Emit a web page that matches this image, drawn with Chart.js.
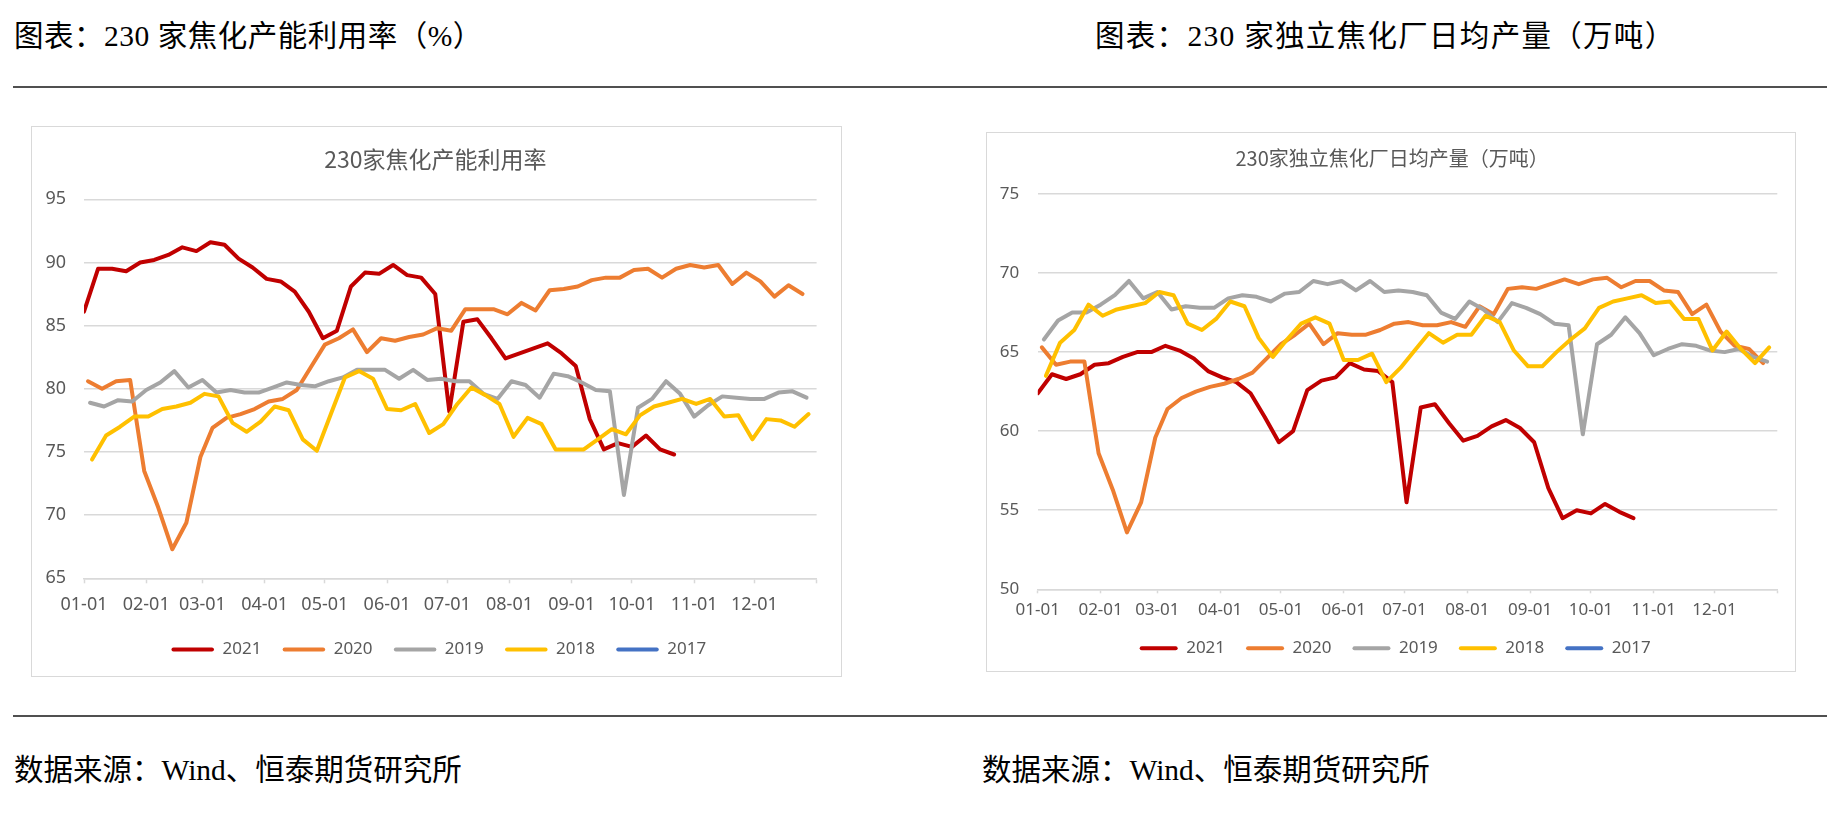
<!DOCTYPE html>
<html>
<head>
<meta charset="utf-8">
<script src="https://cdn.jsdelivr.net/npm/chart.js@4.4.1/dist/chart.umd.min.js"></script>
<style>
  html, body { margin: 0; padding: 0; background: #fff; }
  body { width: 1827px; height: 817px; position: relative; overflow: hidden; }
  .txt { position: absolute; font-family: "Liberation Serif", "Noto Sans CJK SC", serif; font-size: 29.5px; line-height: 40px; color: #000; white-space: nowrap; }
  .rule { position: absolute; left: 13px; right: 0; height: 2px; background: #505050; }
  .frame { position: absolute; border: 1px solid #d9d9d9; box-sizing: border-box; }
  .frame > div { position: absolute; left: 0; top: 0; right: 0; bottom: 0; }
</style>
</head>
<body>
  <div class="txt" style="left:14px; top:16px; letter-spacing:0.5px;">图表：230 家焦化产能利用率（%）</div>
  <div class="txt" style="left:1095px; top:16px; letter-spacing:1.3px;">图表：230 家独立焦化厂日均产量（万吨）</div>
  <div class="rule" style="top:86px;"></div>

  <div class="frame" style="left:31px; top:126px; width:811px; height:551px;">
    <div><canvas id="utilChart"></canvas></div>
  </div>
  <div class="frame" style="left:986px; top:132px; width:810px; height:540px;">
    <div><canvas id="outputChart"></canvas></div>
  </div>

  <div class="rule" style="top:715px;"></div>
  <div class="txt" style="left:14px; top:750px;">数据来源：Wind、恒泰期货研究所</div>
  <div class="txt" style="left:982px; top:750px;">数据来源：Wind、恒泰期货研究所</div>

<script>
(function() {
  "use strict";

  // ── Data ──

  const years = ['2021', '2020', '2019', '2018', '2017'];
  const yearColors = ['#C00000', '#ED7D31', '#A5A5A5', '#FFC000', '#4472C4'];
  const monthLabels = ['01-01', '02-01', '03-01', '04-01', '05-01', '06-01',
                       '07-01', '08-01', '09-01', '10-01', '11-01', '12-01', ''];

  // weekly release dates (Fridays) for each year
  const dates2021 = ['01-01','01-08','01-15','01-22','01-29','02-05','02-12','02-19','02-26','03-05',
    '03-12','03-19','03-26','04-02','04-09','04-16','04-23','04-30','05-07','05-14','05-21','05-28',
    '06-04','06-11','06-18','06-25','07-02','07-09','07-16','07-23','07-30','08-06','08-13','08-20',
    '08-27','09-03','09-10','09-17','09-24','10-01','10-08','10-15','10-22'];
  const dates2020 = ['01-03','01-10','01-17','01-24','01-31','02-07','02-14','02-21','02-28','03-06',
    '03-13','03-20','03-27','04-03','04-10','04-17','04-24','05-01','05-08','05-15','05-22','05-29',
    '06-05','06-12','06-19','06-26','07-03','07-10','07-17','07-24','07-31','08-07','08-14','08-21',
    '08-28','09-04','09-11','09-18','09-25','10-02','10-09','10-16','10-23','10-30','11-06','11-13',
    '11-20','11-27','12-04','12-11','12-18','12-25'];
  const dates2019 = ['01-04','01-11','01-18','01-25','02-01','02-08','02-15','02-22','03-01','03-08',
    '03-15','03-22','03-29','04-05','04-12','04-19','04-26','05-03','05-10','05-17','05-24','05-31',
    '06-07','06-14','06-21','06-28','07-05','07-12','07-19','07-26','08-02','08-09','08-16','08-23',
    '08-30','09-06','09-13','09-20','09-27','10-04','10-11','10-18','10-25','11-01','11-08','11-15',
    '11-22','11-29','12-06','12-13','12-20','12-27'];
  const dates2018 = ['01-05','01-12','01-19','01-26','02-02','02-09','02-16','02-23','03-02','03-09',
    '03-16','03-23','03-30','04-06','04-13','04-20','04-27','05-04','05-11','05-18','05-25','06-01',
    '06-08','06-15','06-22','06-29','07-06','07-13','07-20','07-27','08-03','08-10','08-17','08-24',
    '08-31','09-07','09-14','09-21','09-28','10-05','10-12','10-19','10-26','11-02','11-09','11-16',
    '11-23','11-30','12-07','12-14','12-21','12-28'];

  // 230家焦化产能利用率 (%)
  const util2021 = [86.1, 89.5, 89.5, 89.3, 90.0, 90.2, 90.6, 91.2, 90.9, 91.6, 91.4, 90.3, 89.6, 88.7,
    88.5, 87.7, 86.1, 84.0, 84.6, 88.1, 89.2, 89.1, 89.8, 89.0, 88.8, 87.5, 78.2, 85.3, 85.5, 84.0,
    82.4, 82.8, 83.2, 83.6, 82.8, 81.8, 77.6, 75.2, 75.7, 75.4, 76.3, 75.2, 74.8];
  const util2020 = [80.6, 80.0, 80.6, 80.7, 73.5, 70.6, 67.3, 69.4, 74.6, 76.9, 77.7, 78.0, 78.4, 79.0,
    79.2, 79.9, 81.7, 83.5, 84.0, 84.7, 82.9, 84.0, 83.8, 84.1, 84.3, 84.8, 84.6, 86.3, 86.3, 86.3,
    85.9, 86.8, 86.2, 87.8, 87.9, 88.1, 88.6, 88.8, 88.8, 89.4, 89.5, 88.8, 89.5, 89.8, 89.6, 89.8,
    88.3, 89.2, 88.5, 87.3, 88.2, 87.5];
  const util2019 = [78.9, 78.6, 79.1, 79.0, 79.9, 80.5, 81.4, 80.1, 80.7, 79.7, 79.9, 79.7, 79.7, 80.1,
    80.5, 80.3, 80.2, 80.6, 80.9, 81.5, 81.5, 81.5, 80.8, 81.5, 80.7, 80.8, 80.6, 80.6, 79.6, 79.2,
    80.6, 80.3, 79.3, 81.2, 81.0, 80.5, 79.9, 79.8, 71.6, 78.5, 79.2, 80.6, 79.6, 77.8, 78.7, 79.4,
    79.3, 79.2, 79.2, 79.7, 79.8, 79.3];
  const util2018 = [74.4, 76.3, 77.0, 77.8, 77.8, 78.4, 78.6, 78.9, 79.6, 79.4, 77.3, 76.6, 77.4, 78.6,
    78.3, 76.0, 75.1, 78.0, 80.9, 81.4, 80.8, 78.4, 78.3, 78.8, 76.5, 77.2, 78.8, 80.1, 79.5, 78.8,
    76.2, 77.7, 77.2, 75.2, 75.2, 75.2, 76.0, 76.8, 76.4, 77.9, 78.6, 78.9, 79.2, 78.8, 79.2, 77.8,
    77.9, 76.0, 77.6, 77.5, 77.0, 78.0];

  // 230家独立焦化厂日均产量 (万吨)
  const output2021 = [62.4, 63.6, 63.3, 63.6, 64.2, 64.3, 64.7, 65.0, 65.0, 65.4, 65.1, 64.6, 63.8, 63.4,
    63.1, 62.4, 60.9, 59.3, 60.0, 62.6, 63.2, 63.4, 64.3, 63.9, 63.8, 63.1, 55.5, 61.5, 61.7, 60.5,
    59.4, 59.7, 60.3, 60.7, 60.2, 59.3, 56.4, 54.5, 55.0, 54.8, 55.4, 54.9, 54.5];
  const output2020 = [65.3, 64.2, 64.4, 64.4, 58.6, 56.3, 53.6, 55.5, 59.6, 61.4, 62.1, 62.5, 62.8, 63.0,
    63.3, 63.7, 64.6, 65.5, 66.1, 66.8, 65.5, 66.2, 66.1, 66.1, 66.4, 66.8, 66.9, 66.7, 66.7, 66.9,
    66.6, 67.9, 67.4, 69.0, 69.1, 69.0, 69.3, 69.6, 69.3, 69.6, 69.7, 69.1, 69.5, 69.5, 68.9, 68.8,
    67.4, 68.0, 66.3, 65.4, 65.2, 64.3];
  const output2019 = [65.8, 67.0, 67.5, 67.5, 68.0, 68.6, 69.5, 68.4, 68.8, 67.7, 67.9, 67.8, 67.8, 68.4,
    68.6, 68.5, 68.2, 68.7, 68.8, 69.5, 69.3, 69.5, 68.9, 69.5, 68.8, 68.9, 68.8, 68.6, 67.5, 67.1,
    68.2, 67.7, 66.9, 68.1, 67.8, 67.4, 66.8, 66.7, 59.8, 65.5, 66.1, 67.2, 66.2, 64.8, 65.2, 65.5,
    65.4, 65.1, 65.0, 65.2, 64.7, 64.4];
  const output2018 = [63.5, 65.6, 66.4, 68.0, 67.3, 67.7, 67.9, 68.1, 68.8, 68.6, 66.8, 66.4, 67.1, 68.2,
    67.9, 65.9, 64.7, 65.8, 66.8, 67.2, 66.8, 64.5, 64.5, 64.9, 63.1, 64.0, 65.1, 66.2, 65.6, 66.1,
    66.1, 67.3, 66.9, 65.1, 64.1, 64.1, 65.0, 65.8, 66.5, 67.8, 68.2, 68.4, 68.6, 68.1, 68.2, 67.1,
    67.1, 65.1, 66.3, 65.2, 64.3, 65.3];

  // ── Helpers ──

  const MONTH_START = [0, 31, 59, 90, 120, 151, 181, 212, 243, 273, 304, 334, 365];
  const FONT = '"Noto Sans", "Noto Sans CJK SC", sans-serif';
  const TEXT = '#595959';
  const GRID = '#d9d9d9';

  function toDay(s) {
    const [m, d] = s.split('-').map(Number);
    return MONTH_START[m - 1] + d - 1;
  }

  function points(dates, vals) {
    return vals.map((v, i) => ({ x: toDay(dates[i]), y: v }));
  }

  function buildDatasets(seriesList) {
    return years.map((y, i) => ({
      label: y,
      data: seriesList[i] || [],
      borderColor: yearColors[i],
      backgroundColor: yearColors[i],
      borderWidth: 4,
      pointRadius: 0,
      tension: 0,
      borderJoinStyle: 'round',
      borderCapStyle: 'round',
      order: years.length - i,   // later years drawn on top, like Excel
    }));
  }

  // Excel centres title and legend on the whole frame, Chart.js on the padded box;
  // slide them sideways after layout
  const nudgePlugin = {
    id: 'nudge',
    afterLayout(chart, args, opts) {
      if (chart.titleBlock) { chart.titleBlock.left += opts.title; chart.titleBlock.right += opts.title; }
      if (chart.legend) { chart.legend.left += opts.legend; chart.legend.right += opts.legend; }
    },
  };

  function makeChart(id, o) {
    return new Chart(document.getElementById(id), {
      type: 'line',
      data: { datasets: buildDatasets(o.series) },
      plugins: [nudgePlugin],
      options: {
        responsive: true,
        maintainAspectRatio: false,
        animation: false,
        layout: { padding: { left: 0, top: 0, right: o.padRight, bottom: o.padBottom } },
        plugins: {
          tooltip: { enabled: false },
          nudge: { title: o.titleShift, legend: o.legendShift },
          title: {
            display: true, text: o.title, color: TEXT,
            font: { family: '"Noto Sans CJK SC", sans-serif', size: o.titleSize, weight: 'normal' },
            padding: { top: o.titleTop, bottom: o.titleBottom },
          },
          legend: {
            position: 'bottom',
            labels: {
              color: TEXT,
              font: { family: FONT, size: 17 },
              boxWidth: o.legendBox, boxHeight: 4,
              padding: o.legendPad,
              useBorderRadius: true,
              generateLabels: chart => chart.data.datasets.map((ds, i) => ({
                text: ds.label, fillStyle: ds.borderColor, strokeStyle: ds.borderColor,
                lineWidth: 0, hidden: false, datasetIndex: i, borderRadius: 2, fontColor: TEXT,
              })),
            },
          },
        },
        scales: {
          x: {
            type: 'linear', min: 0, max: 365,
            afterBuildTicks: s => { s.ticks = MONTH_START.map(v => ({ value: v })); },
            afterFit: s => { s.height = o.xHeight; },
            ticks: {
              color: TEXT, font: { family: FONT, size: o.tickSize }, padding: o.xPad,
              maxRotation: 0, autoSkip: false,
              callback: (v, i) => monthLabels[i],
            },
            grid: { drawOnChartArea: false, drawTicks: true, tickLength: o.tickLen, tickColor: GRID, tickWidth: 1.5 },
            border: { display: true, color: GRID, width: 1.5 },
          },
          y: {
            min: o.yMin, max: o.yMax,
            afterFit: s => { s.width = o.left; },
            ticks: { stepSize: 5, color: TEXT, font: { family: FONT, size: o.tickSize }, padding: o.yPad },
            grid: { color: GRID, lineWidth: 1.5, drawTicks: false },
            border: { display: false },
          },
        },
      },
    });
  }

  // ── Charts ──

  makeChart('utilChart', {
    title: '230家焦化产能利用率',
    titleSize: 23, titleTop: 18.2, titleBottom: 26.5,
    series: [points(dates2021, util2021), points(dates2020, util2020),
             points(dates2019, util2019), points(dates2018, util2018)],
    yMin: 65, yMax: 95,
    left: 52, padRight: 24.4, padBottom: 8,
    xHeight: 41.4, xPad: 10.5, tickLen: 5, yPad: 18, tickSize: 18,
    legendBox: 42.5, legendPad: 21.3,
    titleShift: 11, legendShift: 14.5,
  });

  makeChart('outputChart', {
    title: '230家独立焦化厂日均产量（万吨）',
    titleSize: 20, titleTop: 13.6, titleBottom: 23.4,
    series: [points(dates2021, output2021), points(dates2020, output2020),
             points(dates2019, output2019), points(dates2018, output2018)],
    yMin: 50, yMax: 75,
    left: 50.8, padRight: 17.7, padBottom: 4.3,
    xHeight: 29.4, xPad: 7, tickLen: 4, yPad: 18.5, tickSize: 17,
    legendBox: 38, legendPad: 21,
    titleShift: 10, legendShift: 13,
  });

})();
</script>
</body>
</html>
